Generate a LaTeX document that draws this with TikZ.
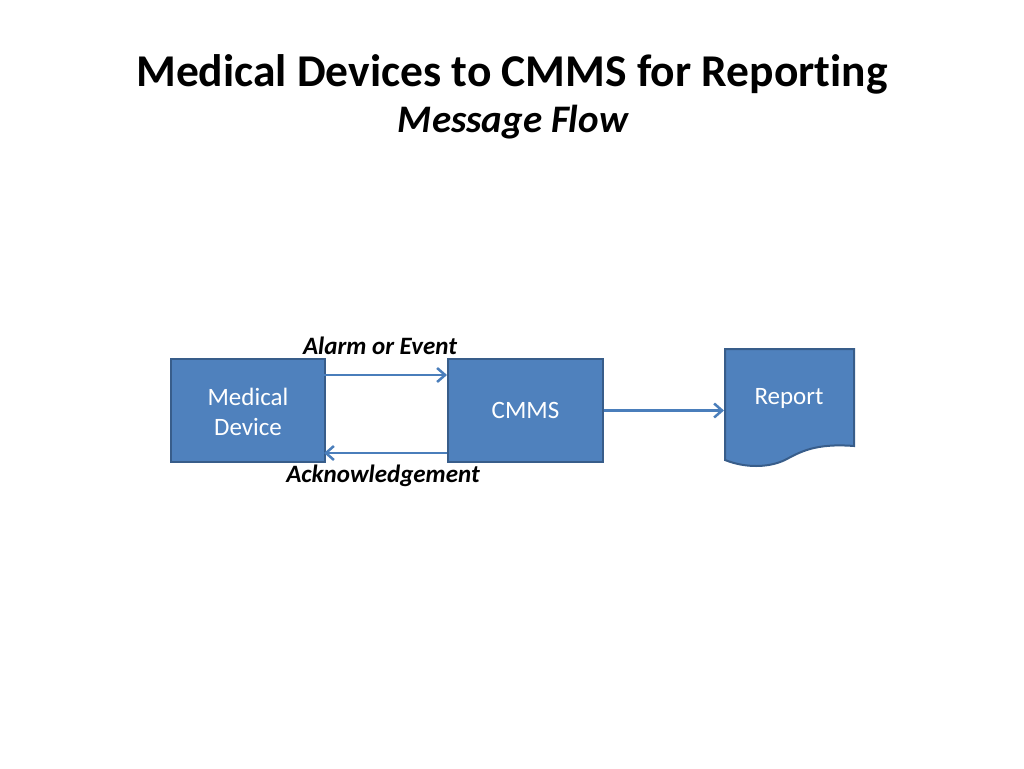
\documentclass[tikz,border=0pt]{standalone}
\usepackage{fontspec}
\setmainfont{Carlito}[Ligatures=NoCommon]
\usetikzlibrary{arrows.meta}
\definecolor{boxfill}{HTML}{4F81BD}
\definecolor{boxline}{HTML}{385D8A}
\definecolor{arrowc}{HTML}{4A7EBB}
\tikzset{
  box/.style={draw=boxline, fill=boxfill, line width=2pt},
  boxtext/.style={text=white, align=center, font=\fontsize{25}{30}\selectfont},
  flow/.style={draw=arrowc, line width=2.5pt, -{Straight Barb[length=8pt,width=14pt,line width=2.5pt]}},
  lbl/.style={font=\fontsize{25}{30}\selectfont\bfseries\itshape}
}
\begin{document}
\begin{tikzpicture}[x=1pt,y=-1pt]
\useasboundingbox (0,0) rectangle (1024,768);
\node[font=\fontsize{45.5}{52}\selectfont\bfseries] (title) at (512,74) {Medical Devices to CMMS for Reporting};
\node[font=\fontsize{39}{46}\selectfont\bfseries\itshape] (sub) at (513,122) {Message Flow};
\node[box, minimum width=154pt, minimum height=103pt, anchor=north west] (md) at (170,358) {};
\node[boxtext] (mdt) at ([yshift=-1pt]md.center) {Medical\\Device};
\node[box, minimum width=155pt, minimum height=103pt, anchor=north west] (cmms) at (447,358) {};
\node[boxtext] (cmmst) at (cmms.center) {CMMS};
\coordinate (rpw) at (724,409);
\draw[box] (725,349) -- (854,349) -- (854,446)
  .. controls (815,443) and (800,452) .. (785,460)
  .. controls (768,468) and (745,468) .. (725,460) -- cycle;
\node[boxtext] (rpt) at (789,398) {Report};
\draw[flow] (324,375) -- (447,375);
\draw[flow] (447,453) -- (324,453);
\draw[flow] (cmms.east) -- (cmms.east -| rpw);
\node[lbl] (alarm) at (380,346) {Alarm or Event};
\node[lbl] (ack) at (383,476) {Acknowledgement};
\end{tikzpicture}
\end{document}
